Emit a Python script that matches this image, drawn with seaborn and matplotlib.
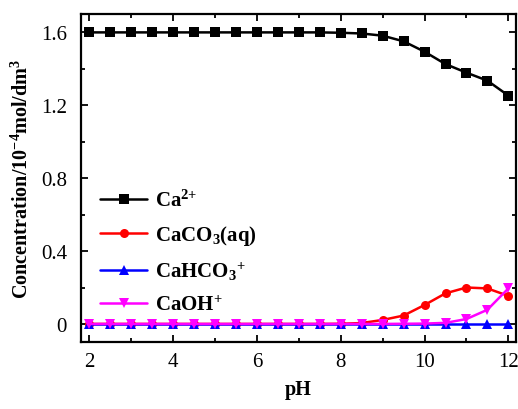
import matplotlib
matplotlib.use("Agg")
import matplotlib.pyplot as plt
import pandas as pd
import seaborn as sns

# pH values, one point per 0.5 unit
ph = [2, 2.5, 3, 3.5, 4, 4.5, 5, 5.5, 6, 6.5, 7, 7.5, 8, 8.5, 9, 9.5,
      10, 10.5, 11, 11.5, 12]

ca = [1.6, 1.6, 1.6, 1.6, 1.6, 1.6, 1.6, 1.6, 1.6, 1.6, 1.6, 1.6, 1.598,
      1.594, 1.582, 1.551, 1.494, 1.426, 1.379, 1.335, 1.253]
caco3 = [0, 0, 0, 0, 0, 0, 0, 0, 0, 0, 0, 0, 0.001, 0.005, 0.022, 0.046,
         0.104, 0.168, 0.2, 0.195, 0.154]
cahco3 = [0.002] * 21
caoh = [0, 0, 0, 0, 0, 0, 0, 0, 0, 0, 0, 0, 0, 0, 0, 0.001, 0.002, 0.006,
        0.027, 0.078, 0.195]

species = [r"Ca$^{2{+}}$", r"CaCO$_3$(aq)", r"CaHCO$_3$$^{+}$", r"CaOH$^{+}$"]
colors = ["black", "red", "blue", "magenta"]
markers = ["s", "o", "^", "v"]

yticks = [0, 0.4, 0.8, 1.2, 1.6]
ytick_labels = ["0", "0.4", "0.8", "1.2", "1.6"]
xticks = [2, 4, 6, 8, 10, 12]


def main():
    frames = []
    for name, vals in zip(species, [ca, caco3, cahco3, caoh]):
        frames.append(pd.DataFrame({"pH": ph, "conc": vals, "species": name}))
    df = pd.concat(frames, ignore_index=True)

    sns.set_style("ticks")
    plt.rcParams["font.family"] = ["Liberation Serif", "DejaVu Serif"]
    plt.rcParams["mathtext.default"] = "regular"
    plt.rcParams["xtick.direction"] = "in"
    plt.rcParams["ytick.direction"] = "in"
    plt.rcParams["text.color"] = "black"
    plt.rcParams["axes.labelcolor"] = "black"

    fig = plt.figure(figsize=(5.18, 4.10), dpi=100)
    ax = fig.add_axes([0.156, 0.163, 0.84, 0.80])

    sns.lineplot(
        data=df, x="pH", y="conc", hue="species", style="species",
        hue_order=species, style_order=species,
        palette=dict(zip(species, colors)),
        markers=dict(zip(species, markers)), dashes=False,
        markersize=6.5, markeredgewidth=0, linewidth=1.8, ax=ax,
    )

    ax.set_xlim(1.8, 12.18)
    ax.set_ylim(-0.1, 1.7)
    ax.set_xticks(xticks)
    ax.set_xticks([3, 5, 7, 9, 11], minor=True)
    ax.set_yticks(yticks)
    ax.set_yticklabels(ytick_labels)
    ax.set_yticks([0.2, 0.6, 1.0, 1.4], minor=True)
    ax.tick_params(which="both", top=True, right=True, labelsize=15,
                   width=1.3, colors="black")
    ax.tick_params(which="major", length=5)
    ax.tick_params(which="minor", length=3)
    ax.tick_params(axis="y", which="major", pad=10)
    ax.tick_params(axis="x", which="major", pad=7)
    for s in ax.spines.values():
        s.set_linewidth(1.6)
        s.set_color("black")

    ax.set_xlabel("pH", fontsize=14.5, fontweight="bold", labelpad=6)
    ax.set_ylabel(r"Concentration/10$^{-4}$mol/dm$^3$", fontsize=14.5,
                  fontweight="bold", labelpad=6)

    handles, labels = ax.get_legend_handles_labels()
    ax.legend(handles, labels, loc="upper left", bbox_to_anchor=(0.0, 0.522),
              frameon=False, handlelength=2.3, handletextpad=0.35,
              labelspacing=0.6, prop={"size": 15, "weight": "bold"})

    fig.savefig("out.png", dpi=100)


if __name__ == "__main__":
    main()
